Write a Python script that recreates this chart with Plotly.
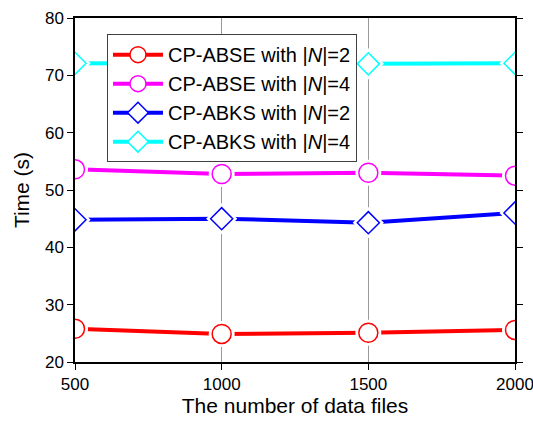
import plotly.graph_objects as go

x_files = [500, 1000, 1500, 2000]
abse_n2 = [25.8, 24.9, 25.1, 25.6]
abse_n4 = [53.6, 52.8, 53.0, 52.5]
abks_n2 = [44.8, 45.0, 44.3, 46.0]
abks_n4 = [72.1, 72.0, 72.0, 72.1]

series = [
    ("CP-ABSE with |<i>N</i>|=2", abse_n2, "#FF0000", "circle", 19),
    ("CP-ABSE with |<i>N</i>|=4", abse_n4, "#FF00FF", "circle", 19),
    ("CP-ABKS with |<i>N</i>|=2", abks_n2, "#0000FF", "diamond", 17),
    ("CP-ABKS with |<i>N</i>|=4", abks_n4, "#00FFFF", "diamond", 17),
]

fig = go.Figure()
for name, ys, c, sym, sz in series:
    fig.add_trace(go.Scatter(x=x_files, y=ys, mode="lines", line=dict(color=c, width=4),
                             showlegend=False, hoverinfo="skip"))
for name, ys, c, sym, sz in series:
    fig.add_trace(go.Scatter(x=x_files, y=ys, mode="markers",
                             marker=dict(symbol=sym, size=sz + 7, color="white", line=dict(width=0)),
                             showlegend=False, hoverinfo="skip"))
for name, ys, c, sym, sz in series:
    fig.add_trace(go.Scatter(x=x_files, y=ys, mode="markers",
                             marker=dict(symbol=sym, size=sz, color="white",
                                         line=dict(color=c, width=1.5)),
                             showlegend=False))
for name, ys, c, sym, sz in series:
    fig.add_trace(go.Scatter(x=[None], y=[None], mode="lines+markers", name=name,
                             line=dict(color=c, width=4),
                             marker=dict(symbol=sym, size=sz, color="white",
                                         line=dict(color=c, width=1.5))))

fig.update_layout(
    width=533, height=426,
    margin=dict(l=75, r=18, t=18, b=64),
    paper_bgcolor="white", plot_bgcolor="white",
    font=dict(family="Liberation Sans, Arial, sans-serif", size=17, color="black"),
    showlegend=True,
    legend=dict(x=0.0727, y=0.953, xanchor="left", yanchor="top",
                bgcolor="white", bordercolor="#404040", borderwidth=1,
                font=dict(size=20), tracegroupgap=0, itemwidth=50),
)
fig.update_xaxes(range=[500, 2000], tickvals=[500, 1000, 1500, 2000],
                 showgrid=True, gridcolor="#999999", gridwidth=1,
                 showline=True, linecolor="black", linewidth=1.5, mirror=True,
                 ticks="outside", ticklen=6, tickcolor="black", tickfont=dict(size=17),
                 ticklabeloverflow="allow",
                 title=dict(text="The number of data files", font=dict(size=21), standoff=3),
                 zeroline=False, automargin=False)
fig.update_yaxes(range=[20, 80], dtick=10, showgrid=False,
                 showline=True, linecolor="black", linewidth=1.5, mirror="ticks",
                 ticks="outside", ticklen=6, tickcolor="black", tickfont=dict(size=17),
                 ticklabeloverflow="allow",
                 title=dict(text="Time (s)", font=dict(size=21), standoff=10),
                 zeroline=False, automargin=False)

fig.write_html("out.html")
